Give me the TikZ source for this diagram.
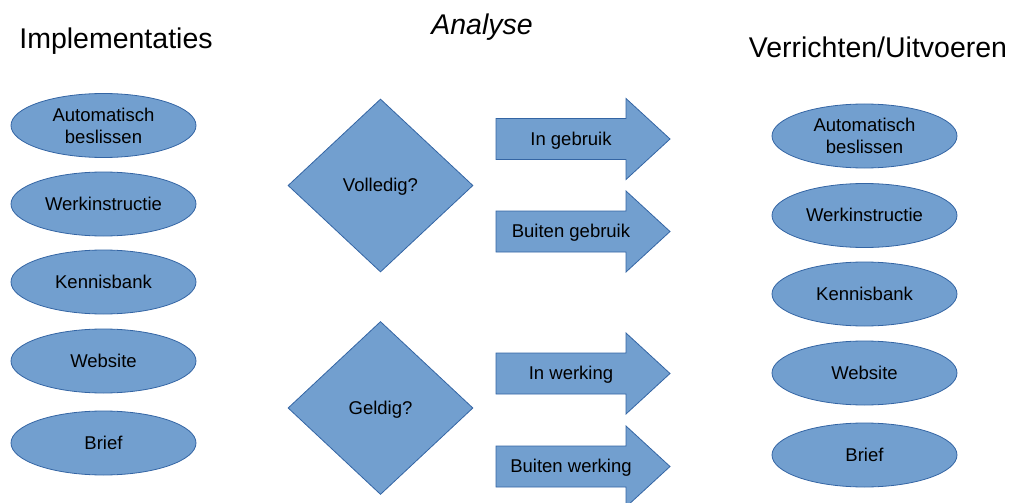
\documentclass[tikz,border=0pt]{standalone}
\usepackage{fontspec}
\setmainfont{Liberation Sans}
\usetikzlibrary{shapes.geometric}
\definecolor{shapefill}{HTML}{729FCF}
\definecolor{shapeline}{HTML}{3465A4}
\tikzset{
  oval/.style={ellipse, draw=shapeline, fill=shapefill, line width=0.8pt,
    minimum width=185pt, minimum height=64pt, inner sep=0pt, align=center,
    font=\fontsize{18.5}{22}\selectfont},
  oneline/.style={text height=16.7pt, text depth=3.9pt},
  choice/.style={diamond, draw=shapeline, fill=shapefill, line width=0.8pt,
    minimum width=185pt, minimum height=173pt, inner sep=0pt, oneline,
    font=\fontsize{18.5}{22}\selectfont},
  arrowshape/.style={draw=shapeline, fill=shapefill, line width=0.8pt, line join=miter},
  arrowlabel/.style={inner sep=0pt, oneline, font=\fontsize{18.5}{22}\selectfont},
  title/.style={inner sep=0pt, text height=25.8pt, text depth=6pt,
    font=\fontsize{28.5}{32}\selectfont},
}
\newcommand{\bigarrow}[3]{%
  \draw[arrowshape] (496,#1-20.5) -- (626,#1-20.5) -- (626,#1-40.5) -- (670,#1)
    -- (626,#1+40.5) -- (626,#1+20.5) -- (496,#1+20.5) -- cycle;
  \node[arrowlabel] (#2) at (571,#1) {#3};}
\begin{document}
\begin{tikzpicture}[x=1pt,y=-1pt]
\useasboundingbox (0,0) rectangle (1013,503);
\node[title] (t1) at (116,39) {Implementaties};
\node[title] (t2) at (482,25) {\itshape Analyse};
\node[title] (t3) at (878,48) {Verrichten/Uitvoeren};
% left
\node[oval] (l1) at (103.5,125.5) {Automatisch\\beslissen};
\node[oval, oneline] (l2) at (103.5,204) {Werkinstructie};
\node[oval, oneline] (l3) at (103.5,282) {Kennisbank};
\node[oval, oneline] (l4) at (103.5,361) {Website};
\node[oval, oneline] (l5) at (103.5,443) {Brief};
% right
\node[oval] (r1) at (864.5,136) {Automatisch\\beslissen};
\node[oval, oneline] (r2) at (864.5,215.5) {Werkinstructie};
\node[oval, oneline] (r3) at (864.5,294) {Kennisbank};
\node[oval, oneline] (r4) at (864.5,373) {Website};
\node[oval, oneline] (r5) at (864.5,455) {Brief};
% diamonds
\node[choice] (d1) at (380.5,185.5) {Volledig?};
\node[choice] (d2) at (380.5,408) {Geldig?};
% arrows
\bigarrow{139}{a1}{In gebruik}
\bigarrow{231.5}{a2}{Buiten gebruik}
\bigarrow{373.5}{a3}{In werking}
\bigarrow{466.5}{a4}{Buiten werking}
\end{tikzpicture}
\end{document}
